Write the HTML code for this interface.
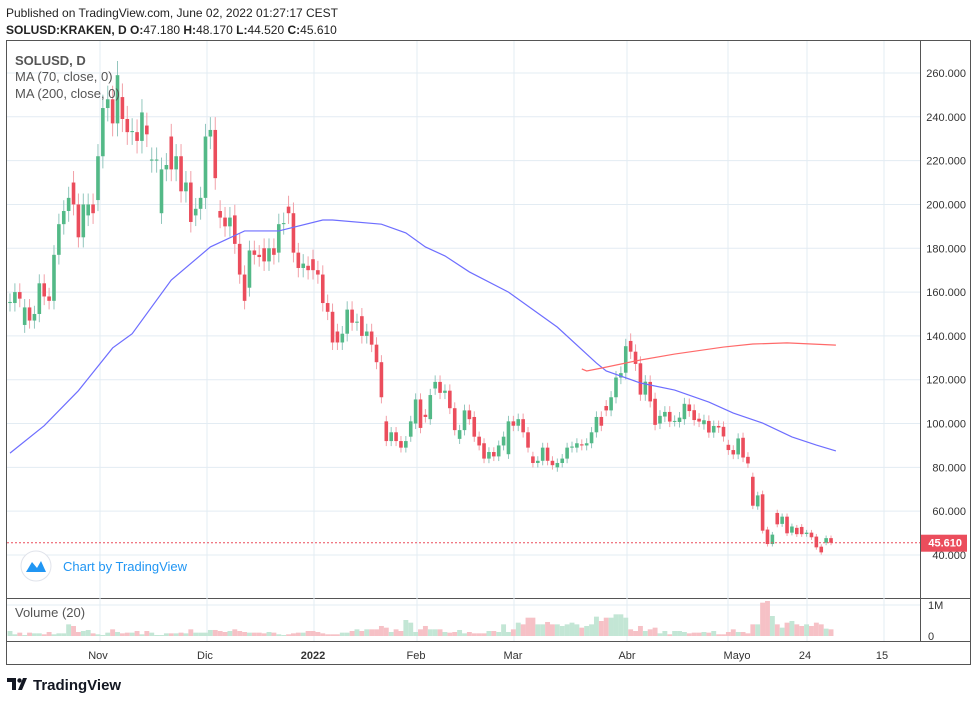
<!DOCTYPE html>
<html><head><meta charset="utf-8"><style>
html,body{margin:0;padding:0;background:#fff;width:978px;height:702px;overflow:hidden}
svg{display:block;font-family:"Liberation Sans",sans-serif}
</style></head><body>
<svg id="chart" width="978" height="702" viewBox="0 0 978 702">
<text x="6" y="17" font-size="12" fill="#222">Published on TradingView.com, June 02, 2022 01:27:17 CEST</text>
<text x="6" y="34" font-size="12" fill="#222"><tspan font-weight="bold">SOLUSD:KRAKEN, D  O:</tspan>47.180 <tspan font-weight="bold">H:</tspan>48.170 <tspan font-weight="bold">L:</tspan>44.520 <tspan font-weight="bold">C:</tspan>45.610</text>
<rect x="6.5" y="40.5" width="964" height="624" fill="none" stroke="#555"/>
<line x1="920.5" y1="40" x2="920.5" y2="641" stroke="#555"/>
<line x1="7" y1="598.5" x2="970" y2="598.5" stroke="#555"/>
<line x1="7" y1="641.5" x2="970" y2="641.5" stroke="#555"/>
<g id="grid"></g>
<g id="vol"></g>
<g id="candles"></g>
<g id="mas"></g>
<g id="labels"></g>
<text x="15" y="65" font-size="13" font-weight="bold" fill="#555">SOLUSD, D</text>
<text x="15" y="81" font-size="13" fill="#555">MA (70, close, 0)</text>
<text x="15" y="98" font-size="13" fill="#555">MA (200, close, 0)</text>
<text x="15" y="617" font-size="13" fill="#555">Volume (20)</text>
<g>
<circle cx="36" cy="566" r="15" fill="#fff" stroke="#e0e3eb"/>
<path d="M26 572 L32 562 L37 568 L41 561 L46 572 Z" fill="#2196f3"/>
<text x="63" y="571" font-size="13" fill="#2196f3">Chart by TradingView</text>
</g>
<g>
<path d="M7 678 h9 v12 h-4 v-8 h-5 z M18 690 l5 -12 h4 l-5 12 z" fill="#131722"/>
<circle cx="19.5" cy="680.5" r="2.2" fill="#131722"/>
<text x="33" y="690" font-size="15" font-weight="bold" fill="#131722">TradingView</text>
</g>
</svg>
<script>
const opens=[155,155,160,145,153,147,150,164,158,156,177,191,197,210,200,185,195,200,202,222,244,248,237,249,239,233,233,229,236,220,220,196,216,231,216,222,206,210,195,198,203,231,234,197,194,190,195,182,168,162,179,177,180,174,180,178,191,199,196,178,171,172,175,170,168,155,151,142,137,141,152,146,149,140,142,136,128,101,92,96,92,89,94,100,111,104,102,116,119,114,115,107,93,97,106,103,94,91,84,87,85,90,86,101,99,102,96,85,82,83,89,83,80,82,84,89,89,90.5,90,91,96,103,108,106,112,121,123.2,137.7,132.8,127.5,113.2,119,111.3,100,103.2,105.3,101.2,100.7,102,108.7,106.1,102.2,99.7,101.2,95.9,98.9,98.5,90.3,87.9,85.9,93.5,84.8,75.7,62.2,67.7,51.6,45,59.2,54.2,57.5,50.2,52.4,52.8,49.6,50.2,48.4,43.8,45.6,47.7];
const closes=[155.5,160,157,153,147,150,164,158,156,177,191,197,203,200,185,200,200,196,222,244,248,237,259,239,233,233.5,229,242,232,220.5,220.5,216,218,216,222,206,210,192,198,203,231,234,212,194,190,194,182,168,156,179,177,176,174,180,177,191,191.5,196,178,171,173,170,170,168,155,151,137,137,141,152,146,146.5,140,142,136,128,112,92,96,92,89,92,101,111,98,103,113,119,114,115,107,97,97,106,102,94,90,84,87,85,90,94,101,99,102,96,89,82,83,89,83,81,82,84,89,89.5,91,90,91,96,103,99,106,112,121,123,135.3,132.8,127.2,113.2,119.1,110.1,99.4,103.5,105.3,100.9,101.2,102.7,109,105.7,101.6,100.9,101.5,95.9,98.9,98.2,94.1,87.9,85.9,93.2,84.5,81.8,62.5,67.2,51.1,45,49.3,54,57.5,49.9,53,49.5,49.5,50.2,48.1,43.5,41.2,47.7,45.6];
const volumesK=[161,54,108,32,108,86,86,54,129,54,86,86,376,323,129,161,194,86,54,32,108,215,129,86,108,108,161,54,161,108,32,32,86,86,86,108,86,215,108,108,108,194,194,161,129,161,215,161,129,108,108,108,86,129,108,54,32,54,86,108,108,161,161,129,86,54,54,54,108,108,161,215,161,215,215,215,323,269,129,215,161,516,430,129,215,323,215,215,215,129,108,129,194,86,129,86,86,86,161,161,129,376,129,215,430,376,591,591,376,376,452,376,376,323,376,430,376,269,323,376,624,484,591,591,699,699,591,215,161,323,161,215,269,86,161,54,161,161,129,86,108,108,129,108,161,54,54,129,215,129,129,86,376,376,1075,1129,645,376,269,430,484,376,323,376,323,430,376,237,215];
const ma70Idx=[0,7,14,21,25,33,41,48,55,64,66,76,81,85,89,94,102,112,120,122,129,136,143,148,154,160,165,169];
const ma70Val=[86.5,99,115,134.5,141,165.5,180.6,187.9,187.9,192.9,192.9,191,187,180.6,176.5,169.2,160,144,127.6,124,118.5,115.3,109.8,104.8,100.2,93.9,90.2,87.5];
const ma200Idx=[117,118,121,129,136,146,152,159,164,169];
const ma200Val=[124.9,124,125.3,129,131.7,134.9,136.3,136.8,136.3,135.8];
const priceTicks=[40,60,80,100,120,140,160,180,200,220,240,260];
const timeLabels=["Nov","Dic","2022","Feb","Mar","Abr","Mayo","24","15"];
const timeLabelX=[98,205,313,416,513,627,737,805,882];
const gridX=[100,207,314,417,514,627,728,807,884];
const lastPrice=45.61;

const NS="http://www.w3.org/2000/svg";
function yP(p){return 555-(p-40)*2.191;}
function xI(i){return 10+i*4.887;}
function yV(k){return 636-k/1000*31;}
function mk(tag,attrs,parent){const e=document.createElementNS(NS,tag);for(const k in attrs)e.setAttribute(k,attrs[k]);parent.appendChild(e);return e;}
const grid=document.getElementById('grid'),labels=document.getElementById('labels');
priceTicks.forEach(p=>{
  const l=mk('line',{x1:7,x2:920,y1:yP(p),y2:yP(p),stroke:'#e3ecf3'},grid);
  
  
  const t=mk('text',{x:966,y:yP(p)+4,'font-size':11,fill:'#333','text-anchor':'end'},labels);
  t.textContent=p.toFixed(3);
  
  
});
mk('line',{x1:7,x2:920,y1:605,y2:605,stroke:'#e3ecf3'},grid);
gridX.forEach(x=>{
  const l=mk('line',{x1:x,x2:x,y1:41,y2:641,stroke:'#e3ecf3'},grid);
  
  
});
timeLabels.forEach((s,i)=>{
  const t=mk('text',{x:timeLabelX[i],y:659,'font-size':11,fill:'#333','text-anchor':'middle','font-weight':s==='2022'?'bold':'normal'},labels);
  t.textContent=s;
  
  
});
[['1M',1000],['0',0]].forEach(([s,v])=>{
  const t=mk('text',{x:928,y:yV(v)+4,'font-size':11,fill:'#333'},labels);
  t.textContent=s;
  
  
});
const vol=document.getElementById('vol');
volumesK.forEach((k,i)=>{
  const up=closes[i]>=opens[i];
  const r=mk('rect',{x:xI(i)-2.45,y:yV(k),width:4.9,height:636-yV(k),fill:up?'#c3e6d5':'#f6c1c6'},vol);
  
  
});
const cg=document.getElementById('candles');
opens.forEach((o,i)=>{
  const c=closes[i],up=c>=o,x=xI(i);
  const hi=Math.max(o,c)*1.025,lo=Math.min(o,c)*0.975;
  const w=mk('line',{x1:x,x2:x,y1:yP(hi),y2:yP(lo),stroke:up?'#92c6bd':'#f2a0a8','stroke-width':1},cg);
  
  
  const top=yP(Math.max(o,c)),h=Math.max(1,yP(Math.min(o,c))-top);
  const b=mk('rect',{x:x-1.8,y:top,width:3.6,height:h,fill:up?'#53b987':'#eb4d5c'},cg);
  
  
});
const mas=document.getElementById('mas');
const p70=mk('polyline',{points:ma70Idx.map((i,k)=>xI(i)+','+yP(ma70Val[k])).join(' '),fill:'none',stroke:'#6e6eff','stroke-width':1.2},mas);


const p200=mk('polyline',{points:ma200Idx.map((i,k)=>xI(i)+','+yP(ma200Val[k])).join(' '),fill:'none',stroke:'#ff6a6a','stroke-width':1.2},mas);


const dl=mk('line',{x1:7,x2:920,y1:yP(lastPrice),y2:yP(lastPrice),stroke:'#eb4d5c','stroke-dasharray':'2,2'},mas);


const bx=mk('rect',{x:921,y:yP(lastPrice)-8,width:46,height:17,fill:'#eb4d5c'},labels);


const bt=mk('text',{x:962,y:yP(lastPrice)+4,'font-size':11,'font-weight':'bold',fill:'#fff','text-anchor':'end'},labels);
bt.textContent=lastPrice.toFixed(3);


</script>
</body></html>
